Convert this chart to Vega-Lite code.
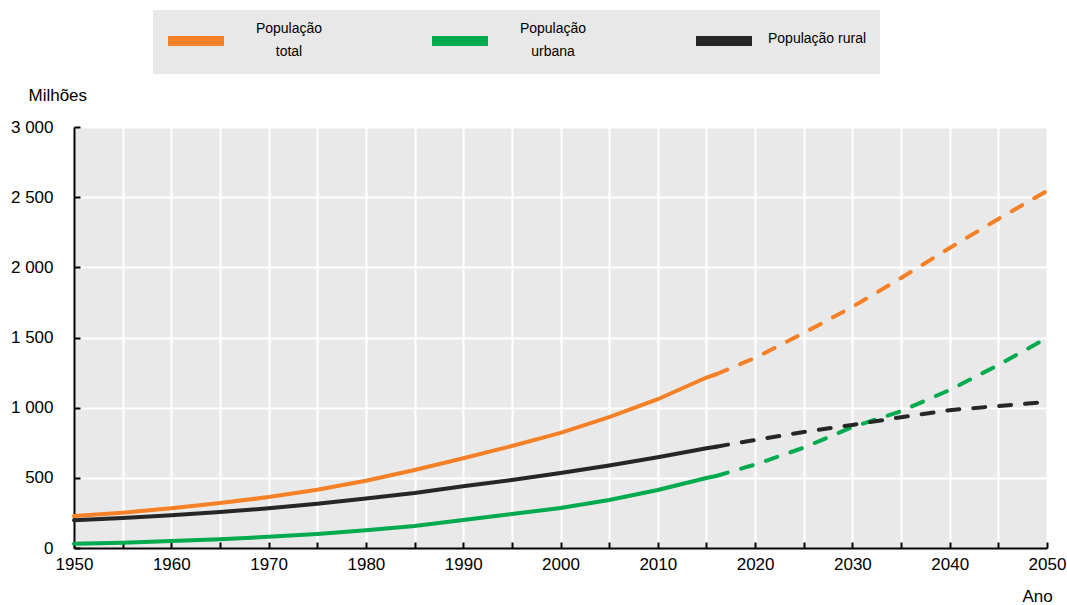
{
  "$schema": "https://vega.github.io/schema/vega-lite/v6.json",
  "width": 973,
  "height": 421,
  "autosize": "none",
  "padding": {"left": 74, "top": 127, "right": 20, "bottom": 57},
  "background": "white",
  "config": {
    "view": {"fill": "#e9e9e9", "stroke": null},
    "font": "Liberation Sans"
  },
  "data": {
    "values": [
      {"series": "População total", "year": 1950, "value": 228, "segment": "hist"},
      {"series": "População total", "year": 1955, "value": 252, "segment": "hist"},
      {"series": "População total", "year": 1960, "value": 283, "segment": "hist"},
      {"series": "População total", "year": 1965, "value": 320, "segment": "hist"},
      {"series": "População total", "year": 1970, "value": 363, "segment": "hist"},
      {"series": "População total", "year": 1975, "value": 415, "segment": "hist"},
      {"series": "População total", "year": 1980, "value": 479, "segment": "hist"},
      {"series": "População total", "year": 1985, "value": 556, "segment": "hist"},
      {"series": "População total", "year": 1990, "value": 640, "segment": "hist"},
      {"series": "População total", "year": 1995, "value": 727, "segment": "hist"},
      {"series": "População total", "year": 2000, "value": 820, "segment": "hist"},
      {"series": "População total", "year": 2005, "value": 932, "segment": "hist"},
      {"series": "População total", "year": 2010, "value": 1060, "segment": "hist"},
      {"series": "População total", "year": 2015, "value": 1215, "segment": "hist"},
      {"series": "População total", "year": 2016, "value": 1238, "segment": "hist"},
      {"series": "População total", "year": 2016, "value": 1238, "segment": "proj"},
      {"series": "População total", "year": 2020, "value": 1355, "segment": "proj"},
      {"series": "População total", "year": 2025, "value": 1532, "segment": "proj"},
      {"series": "População total", "year": 2030, "value": 1718, "segment": "proj"},
      {"series": "População total", "year": 2035, "value": 1924, "segment": "proj"},
      {"series": "População total", "year": 2040, "value": 2138, "segment": "proj"},
      {"series": "População total", "year": 2045, "value": 2345, "segment": "proj"},
      {"series": "População total", "year": 2050, "value": 2545, "segment": "proj"},
      {"series": "População urbana", "year": 1950, "value": 30, "segment": "hist"},
      {"series": "População urbana", "year": 1955, "value": 38, "segment": "hist"},
      {"series": "População urbana", "year": 1960, "value": 50, "segment": "hist"},
      {"series": "População urbana", "year": 1965, "value": 63, "segment": "hist"},
      {"series": "População urbana", "year": 1970, "value": 80, "segment": "hist"},
      {"series": "População urbana", "year": 1975, "value": 100, "segment": "hist"},
      {"series": "População urbana", "year": 1980, "value": 127, "segment": "hist"},
      {"series": "População urbana", "year": 1985, "value": 157, "segment": "hist"},
      {"series": "População urbana", "year": 1990, "value": 200, "segment": "hist"},
      {"series": "População urbana", "year": 1995, "value": 242, "segment": "hist"},
      {"series": "População urbana", "year": 2000, "value": 285, "segment": "hist"},
      {"series": "População urbana", "year": 2005, "value": 342, "segment": "hist"},
      {"series": "População urbana", "year": 2010, "value": 413, "segment": "hist"},
      {"series": "População urbana", "year": 2015, "value": 499, "segment": "hist"},
      {"series": "População urbana", "year": 2016, "value": 513, "segment": "hist"},
      {"series": "População urbana", "year": 2016, "value": 513, "segment": "proj"},
      {"series": "População urbana", "year": 2020, "value": 595, "segment": "proj"},
      {"series": "População urbana", "year": 2025, "value": 715, "segment": "proj"},
      {"series": "População urbana", "year": 2030, "value": 862, "segment": "proj"},
      {"series": "População urbana", "year": 2035, "value": 975, "segment": "proj"},
      {"series": "População urbana", "year": 2040, "value": 1126, "segment": "proj"},
      {"series": "População urbana", "year": 2045, "value": 1304, "segment": "proj"},
      {"series": "População urbana", "year": 2050, "value": 1497, "segment": "proj"},
      {"series": "População rural", "year": 1950, "value": 198, "segment": "hist"},
      {"series": "População rural", "year": 1955, "value": 214, "segment": "hist"},
      {"series": "População rural", "year": 1960, "value": 233, "segment": "hist"},
      {"series": "População rural", "year": 1965, "value": 257, "segment": "hist"},
      {"series": "População rural", "year": 1970, "value": 283, "segment": "hist"},
      {"series": "População rural", "year": 1975, "value": 315, "segment": "hist"},
      {"series": "População rural", "year": 1980, "value": 352, "segment": "hist"},
      {"series": "População rural", "year": 1985, "value": 392, "segment": "hist"},
      {"series": "População rural", "year": 1990, "value": 440, "segment": "hist"},
      {"series": "População rural", "year": 1995, "value": 485, "segment": "hist"},
      {"series": "População rural", "year": 2000, "value": 535, "segment": "hist"},
      {"series": "População rural", "year": 2005, "value": 588, "segment": "hist"},
      {"series": "População rural", "year": 2010, "value": 647, "segment": "hist"},
      {"series": "População rural", "year": 2015, "value": 711, "segment": "hist"},
      {"series": "População rural", "year": 2016, "value": 722, "segment": "hist"},
      {"series": "População rural", "year": 2016, "value": 722, "segment": "proj"},
      {"series": "População rural", "year": 2020, "value": 770, "segment": "proj"},
      {"series": "População rural", "year": 2025, "value": 827, "segment": "proj"},
      {"series": "População rural", "year": 2030, "value": 877, "segment": "proj"},
      {"series": "População rural", "year": 2035, "value": 932, "segment": "proj"},
      {"series": "População rural", "year": 2040, "value": 982, "segment": "proj"},
      {"series": "População rural", "year": 2045, "value": 1012, "segment": "proj"},
      {"series": "População rural", "year": 2050, "value": 1041, "segment": "proj"}
    ]
  },
  "encoding": {
    "x": {
      "field": "year",
      "type": "quantitative",
      "scale": {"domain": [1950, 2050], "nice": false, "zero": false},
      "axis": {
        "values": [1950, 1955, 1960, 1965, 1970, 1975, 1980, 1985, 1990, 1995, 2000, 2005, 2010, 2015, 2020, 2025, 2030, 2035, 2040, 2045, 2050],
        "format": "d",
        "labelExpr": "datum.value % 10 == 0 ? datum.label : ''",
        "labelFlush": false,
        "labelOverlap": false,
        "labelFont": "Liberation Sans",
        "labelFontSize": 17,
        "labelColor": "#000000",
        "labelPadding": 14,
        "tickSize": -6,
        "tickColor": "#000000",
        "tickWidth": 2,
        "domainColor": "#000000",
        "domainWidth": 2,
        "grid": true,
        "gridColor": "#ffffff",
        "gridWidth": 2,
        "title": "Ano",
        "titleFont": "Liberation Sans",
        "titleFontSize": 17,
        "titleFontWeight": "normal",
        "titleColor": "#000000",
        "titleX": 963,
        "titleY": 53,
        "titleAlign": "center",
        "titleBaseline": "alphabetic"
      }
    },
    "y": {
      "field": "value",
      "type": "quantitative",
      "scale": {"domain": [0, 3000], "nice": false},
      "axis": {
        "values": [0, 500, 1000, 1500, 2000, 2500, 3000],
        "format": ",d",
        "labelExpr": "replace(datum.label, ',', ' ')",
        "labelFont": "Liberation Sans",
        "labelFontSize": 17,
        "labelColor": "#000000",
        "labelPadding": 27,
        "tickSize": -6,
        "tickColor": "#000000",
        "tickWidth": 2,
        "domainColor": "#000000",
        "domainWidth": 2,
        "grid": true,
        "gridColor": "#ffffff",
        "gridWidth": 2,
        "title": "Milhões",
        "titleFont": "Liberation Sans",
        "titleFontSize": 17,
        "titleFontWeight": "normal",
        "titleColor": "#000000",
        "titleAngle": 0,
        "titleX": -46,
        "titleY": -32,
        "titleAlign": "left",
        "titleBaseline": "middle"
      }
    },
    "color": {
      "field": "series",
      "type": "nominal",
      "scale": {
        "domain": ["População total", "População urbana", "População rural"],
        "range": ["#f58025", "#00aa4e", "#262626"]
      },
      "legend": {
        "orient": "none",
        "legendX": 79,
        "legendY": -117,
        "direction": "horizontal",
        "columns": 3,
        "title": null,
        "fillColor": "#e8e8e8",
        "padding": 13,
        "symbolType": "M-2.1538,0H2.1538",
        "symbolSize": 676,
        "symbolStrokeWidth": 10,
        "symbolOffset": 12,
        "labelFont": "Liberation Sans",
        "labelFontSize": 14,
        "labelColor": "#000000",
        "labelAlign": "center",
        "labelBaseline": "middle",
        "labelOffset": 75,
        "labelLimit": 300,
        "columnPadding": 89,
        "labelExpr": "datum.label == 'População rural' ? datum.label : split(datum.label, ' ')",
        "encode": {"labels": {"update": {"lineHeight": {"value": 23}, "dy": {"signal": "datum.label == 'População rural' ? -2 : -12"}}}}
      }
    }
  },
  "layer": [
    {
      "transform": [{"filter": "datum.segment == 'hist'"}],
      "mark": {"type": "line", "strokeWidth": 4, "strokeCap": "round"}
    },
    {
      "transform": [{"filter": "datum.segment == 'proj'"}],
      "mark": {"type": "line", "strokeWidth": 4, "strokeCap": "round", "strokeDash": [12, 14]}
    }
  ]
}
